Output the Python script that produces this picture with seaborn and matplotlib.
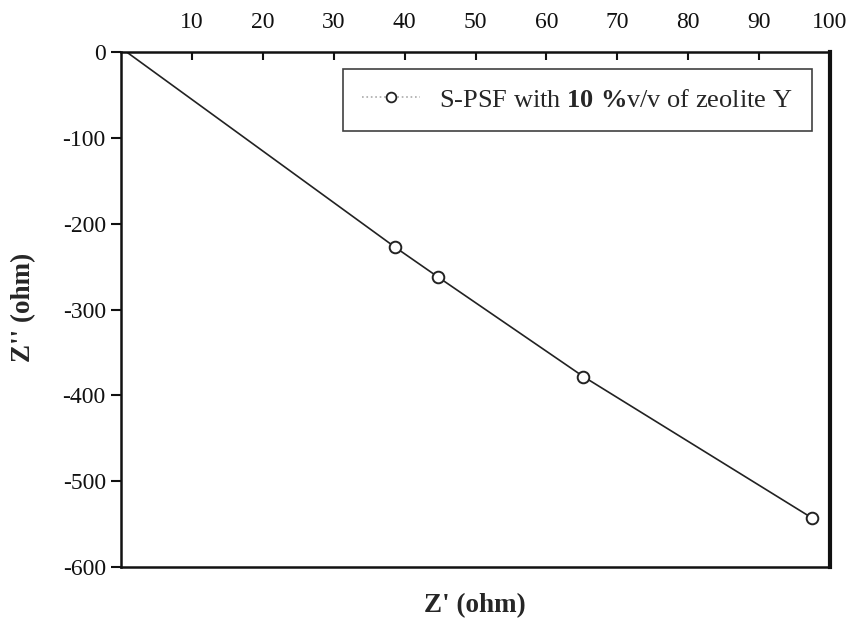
import matplotlib
matplotlib.use("Agg")
import matplotlib.pyplot as plt
from matplotlib.lines import Line2D
import seaborn as sns
import pandas as pd

# Impedance data (Nyquist plot)
z_real = [38.6, 44.7, 65.2, 97.5]
z_imag = [-227, -262, -378, -543]

# Fitted curve through the measurements, starting at the origin
fit_real = [0.8, 38.6, 44.7, 65.2, 97.5]
fit_imag = [0.0, -227, -262, -378, -543]

x_ticks = [10, 20, 30, 40, 50, 60, 70, 80, 90, 100]
y_ticks = [0, -100, -200, -300, -400, -500, -600]
series_label = r"S-PSF with $\mathbf{10\;\%}$v/v of zeolite Y"

sns.set_theme(style="white")
plt.rcParams["font.family"] = ["Liberation Serif", "DejaVu Serif"]
plt.rcParams["mathtext.fontset"] = "custom"
plt.rcParams["mathtext.rm"] = "Liberation Serif"
plt.rcParams["mathtext.bf"] = "Liberation Serif:bold"

pts = pd.DataFrame({"x": z_real, "y": z_imag})
fit = pd.DataFrame({"x": fit_real, "y": fit_imag})

fig = plt.figure(figsize=(8.53, 6.35), dpi=100)
ax = fig.add_axes([0.1419, 0.107, 0.8311, 0.811])

sns.lineplot(data=fit, x="x", y="y", ax=ax, color="#222222", linewidth=1.2,
             sort=False, estimator=None)
sns.scatterplot(data=pts, x="x", y="y", ax=ax, marker="o", s=70,
                facecolor="white", edgecolor="#222222", linewidth=1.4, zorder=5)

ax.set_xlim(0, 100)
ax.set_ylim(-600, 0)

ax.xaxis.tick_top()
ax.set_xticks(x_ticks)
ax.set_yticks(y_ticks)
ax.set_xticklabels([str(t) for t in x_ticks])
ax.set_yticklabels([str(t) for t in y_ticks])
ax.tick_params(axis="x", direction="in", length=6, width=1.5, labelsize=17,
               pad=14, colors="#111111")
ax.tick_params(axis="y", direction="out", length=7, width=1.5, labelsize=17,
               pad=4, colors="#111111")
ax.tick_params(top=True, bottom=False, left=True, right=False)

for name, sp in ax.spines.items():
    sp.set_visible(True)
    sp.set_color("#111111")
    sp.set_linewidth(1.8)
ax.spines["right"].set_linewidth(3.0)

ax.set_xlabel("")
ax.set_ylabel("Z'' (ohm)", fontsize=19.5, fontweight="bold", va="center")
ax.yaxis.set_label_coords(-0.138, 0.505)
fig.text(0.557, 0.047, "Z' (ohm)", fontsize=19.5, fontweight="bold",
         ha="center", va="center")

handle = Line2D([], [], color="#aaaaaa", linestyle=":", linewidth=1.2,
                marker="o", markersize=7, markerfacecolor="white",
                markeredgecolor="#222222", markeredgewidth=1.3)
leg = ax.legend([handle], [series_label], loc="upper right",
                bbox_to_anchor=(0.9746, 0.967), borderaxespad=0.0,
                fontsize=19, frameon=True, fancybox=False,
                edgecolor="#111111", borderpad=0.72,
                handlelength=2.2, handletextpad=0.75)
leg.get_frame().set_linewidth(1.2)

fig.savefig("out.png", dpi=100)
